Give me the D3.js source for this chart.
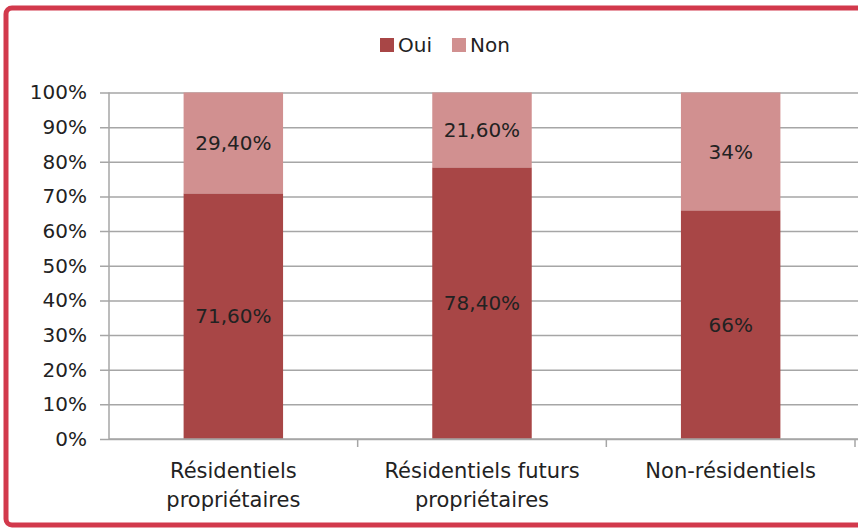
<!DOCTYPE html>
<html>
<head>
<meta charset="utf-8">
<script src="https://cdn.jsdelivr.net/npm/d3@7"></script>
<style>
  body { margin: 0; background: #fff; }
  text { font-family: "DejaVu Sans", sans-serif; fill: #222; }
</style>
</head>
<body>
<script>
// Chart data
var categories = ["Résidentiels propriétaires", "Résidentiels futurs propriétaires", "Non-résidentiels"];
var categoryLines = [["Résidentiels", "propriétaires"], ["Résidentiels futurs", "propriétaires"], ["Non-résidentiels"]];
var seriesNames = ["Oui", "Non"];
var oui = [71.6, 78.4, 66];
var non = [29.4, 21.6, 34];
var ouiLabels = ["71,60%", "78,40%", "66%"];
var nonLabels = ["29,40%", "21,60%", "34%"];
var yTicks = [0, 0.1, 0.2, 0.3, 0.4, 0.5, 0.6, 0.7, 0.8, 0.9, 1];

var colors = { Oui: "#a84646", Non: "#d19090" };

var svgWidth = 858;
var svgHeight = 528;
var margin = { top: 92.5, right: 3, bottom: 89, left: 109 };

var svg = d3.select("body")
  .append("svg")
  .attr("width", svgWidth)
  .attr("height", svgHeight);

// frame (right edge cut off like the original)
svg.append("rect")
  .attr("x", 6).attr("y", 8)
  .attr("width", 900).attr("height", 517)
  .attr("rx", 6)
  .attr("fill", "none")
  .attr("stroke", "#d2394c")
  .attr("stroke-width", 5);

var table = categories.map((c, i) => ({ cat: c, Oui: oui[i], Non: non[i], i: i }));
var stacked = d3.stack().keys(seriesNames).offset(d3.stackOffsetExpand)(table);

var x = d3.scaleBand()
  .domain(categories)
  .range([margin.left, svgWidth - margin.right])
  .paddingInner(0.6)
  .paddingOuter(0.3);

var y = d3.scaleLinear()
  .domain([0, 1])
  .range([svgHeight - margin.bottom, margin.top]);

// gridlines + y ticks
var yAxis = svg.append("g")
  .attr("transform", `translate(${margin.left},0)`)
  .call(d3.axisLeft(y).tickValues(yTicks).tickFormat(d3.format(".0%"))
    .tickSize(-(svgWidth - margin.left)).tickPadding(22));
yAxis.select(".domain").remove();
yAxis.selectAll(".tick line")
  .attr("stroke", "#a6a6a6").attr("stroke-width", 1.5)
  .attr("x1", -9);
yAxis.selectAll(".tick text")
  .attr("font-size", 20)
  .attr("font-family", "DejaVu Sans")
  .attr("fill", "#222");

// vertical axis line
svg.append("line")
  .attr("x1", margin.left).attr("x2", margin.left)
  .attr("y1", y(1)).attr("y2", y(0) + 1)
  .attr("stroke", "#a6a6a6").attr("stroke-width", 1.5);

// bars
var groups = svg.selectAll("g.series")
  .data(stacked)
  .enter()
  .append("g")
  .attr("class", "series")
  .attr("fill", d => colors[d.key]);

groups.selectAll("rect")
  .data(d => d)
  .enter()
  .append("rect")
  .attr("x", d => x(d.data.cat))
  .attr("width", x.bandwidth())
  .attr("y", d => y(d[1]))
  .attr("height", d => y(d[0]) - y(d[1]));

// data labels
groups.selectAll("text")
  .data(function(d) {
    var key = d3.select(this).datum().key;
    return d.map(s => ({ s: s, key: key }));
  })
  .enter()
  .append("text")
  .attr("x", d => x(d.s.data.cat) + x.bandwidth() / 2)
  .attr("y", d => (y(d.s[0]) + y(d.s[1])) / 2)
  .attr("dy", "0.36em")
  .attr("text-anchor", "middle")
  .attr("font-size", 20)
  .text(d => d.key == "Oui" ? ouiLabels[d.s.data.i] : nonLabels[d.s.data.i]);

// x axis
var step = x.step();
var xBase = y(0);
svg.append("line")
  .attr("x1", margin.left).attr("x2", svgWidth)
  .attr("y1", xBase).attr("y2", xBase)
  .attr("stroke", "#a6a6a6").attr("stroke-width", 1.5);

svg.selectAll("line.xtick")
  .data(categories)
  .enter()
  .append("line")
  .attr("class", "xtick")
  .attr("x1", d => x(d) + x.bandwidth() / 2 + step / 2)
  .attr("x2", d => x(d) + x.bandwidth() / 2 + step / 2)
  .attr("y1", xBase).attr("y2", xBase + 8)
  .attr("stroke", "#a6a6a6").attr("stroke-width", 1.5);

var xl = svg.selectAll("text.xlabel")
  .data(categories)
  .enter()
  .append("text")
  .attr("class", "xlabel")
  .attr("text-anchor", "middle")
  .attr("font-size", 21)
  .attr("x", d => x(d) + x.bandwidth() / 2)
  .attr("y", 478);

xl.selectAll("tspan")
  .data((d, i) => categoryLines[i])
  .enter()
  .append("tspan")
  .attr("x", function() { return d3.select(this.parentNode).attr("x"); })
  .attr("dy", (d, i) => i == 0 ? 0 : 29)
  .text(d => d);

// legend
var legend = svg.append("g").attr("transform", "translate(380,45)");
var lx = 0;
seriesNames.forEach(function(name) {
  legend.append("rect")
    .attr("x", lx).attr("y", -7)
    .attr("width", 14).attr("height", 14)
    .attr("fill", colors[name]);
  var t = legend.append("text")
    .attr("x", lx + 18).attr("y", 0)
    .attr("dy", "0.36em")
    .attr("font-size", 20)
    .text(name);
  lx += 18 + t.node().getComputedTextLength() + 20;
});
</script>
</body>
</html>
